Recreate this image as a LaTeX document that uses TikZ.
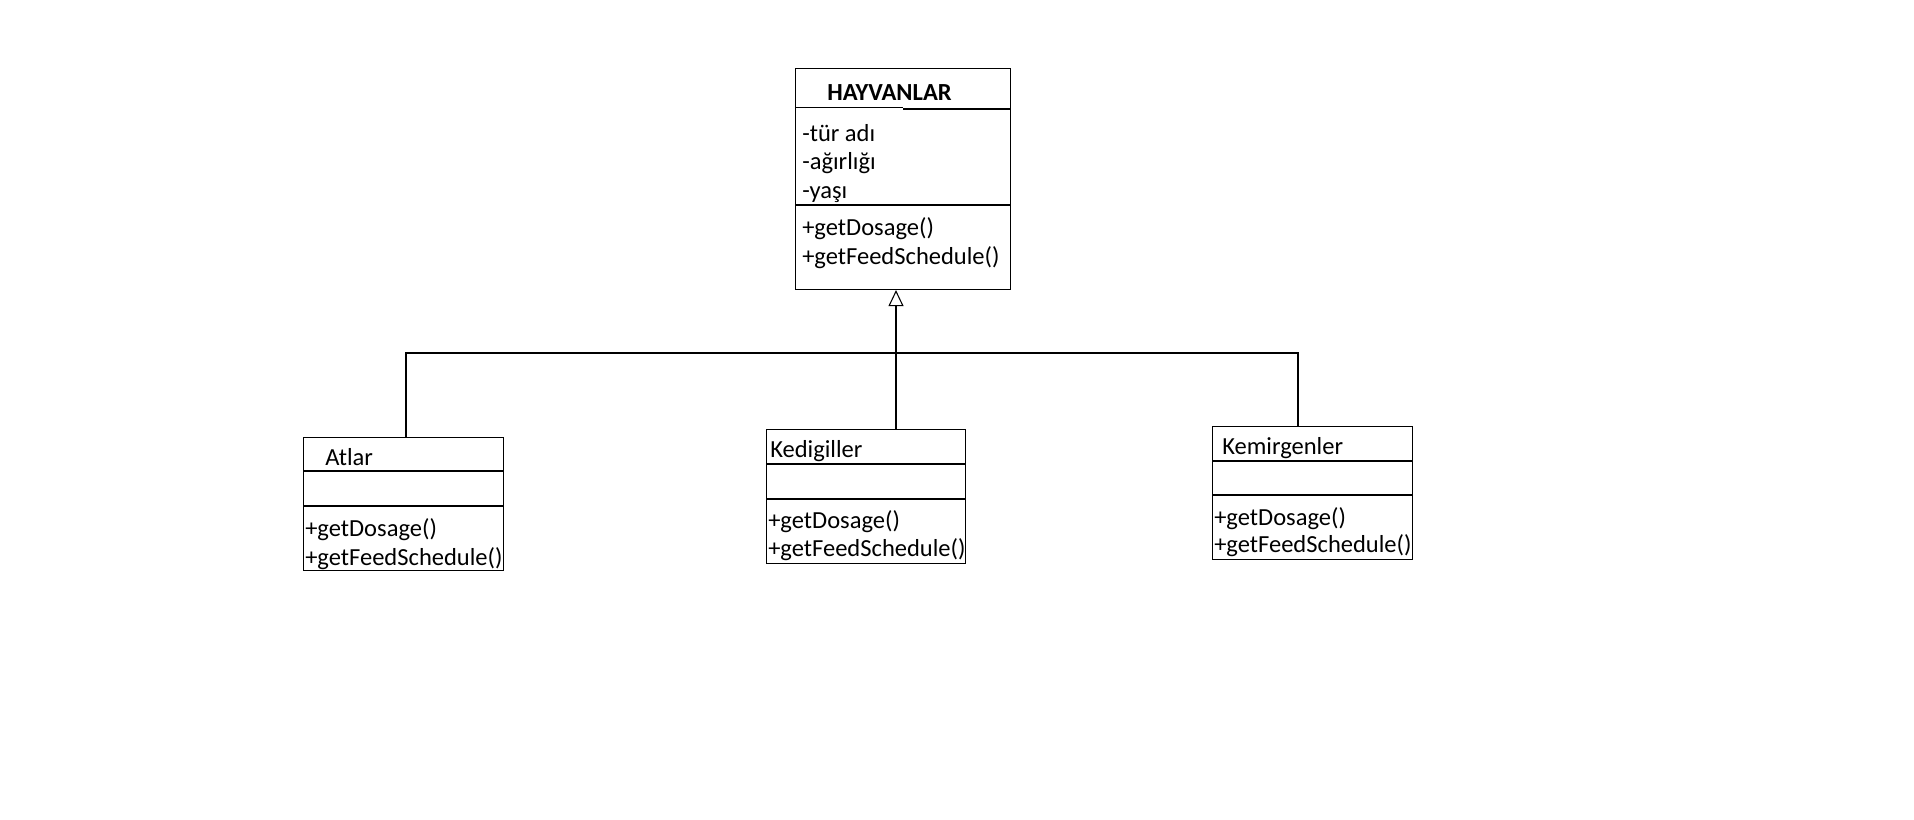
\documentclass[tikz,border=0pt]{standalone}
\usepackage{fontspec}
\setmainfont{Carlito}
\usetikzlibrary{arrows.meta}
\begin{document}
% one unit = one pixel, y grows downwards
\begin{tikzpicture}[x=0.75pt,y=-0.75pt,
  classbox/.style={draw,line width=0.8pt,inner sep=0pt,anchor=north west},
  divider/.style={line width=0.8pt},
  link/.style={line width=0.8pt},
  txt/.style={anchor=base west,inner sep=0pt,font=\fontsize{18.4pt}{20pt}\selectfont},
  title/.style={txt,font=\fontsize{18.4pt}{20pt}\selectfont\bfseries},
  inherit/.style={link,-{Triangle[open,width=11.25pt,length=12pt,line width=0.8pt]}}]
\useasboundingbox (0,0) rectangle (1914,820);

% --- base class ---
\node[classbox,minimum width=161.25pt,minimum height=165.75pt] (hay) at (795,68) {};
\draw[divider] (795,107.5) -- (903,107.5);
\draw[divider] (903,109) -- (1010,109);
\draw[divider] (795,205) -- (1010,205);
\node[title] (hayname) at (827,101) {HAYVANLAR};
\node[txt] (hayA1) at (802,142) {-tür adı};
\node[txt] (hayA2) at (802,170) {-ağırlığı};
\node[txt] (hayA3) at (802,199) {-yaşı};
\node[txt] (hayM1) at (802,235) {+getDosage()};
\node[txt] (hayM2) at (802,264) {+getFeedSchedule()};

% --- Atlar ---
\node[classbox,minimum width=150pt,minimum height=99.75pt] (atlar) at (303,437) {};
\draw[divider] (303,471) -- (503,471);
\draw[divider] (303,506) -- (503,506);
\node[txt] (atlarname) at (325,465) {Atlar};
\node[txt] (atlarM1) at (305,536) {+getDosage()};
\node[txt] (atlarM2) at (305,565) {+getFeedSchedule()};

% --- Kedigiller ---
\node[classbox,minimum width=149.25pt,minimum height=100.5pt] (kedi) at (766,429) {};
\draw[divider] (766,464) -- (965,464);
\draw[divider] (766,499) -- (965,499);
\node[txt] (kediname) at (770,457) {Kedigiller};
\node[txt] (kediM1) at (768,528) {+getDosage()};
\node[txt] (kediM2) at (768,556) {+getFeedSchedule()};

% --- Kemirgenler ---
\node[classbox,minimum width=150pt,minimum height=99.75pt] (kemir) at (1212,426) {};
\draw[divider] (1212,461) -- (1412,461);
\draw[divider] (1212,495) -- (1412,495);
\node[txt] (kemirname) at (1222,454) {Kemirgenler};
\node[txt] (kemirM1) at (1214,525) {+getDosage()};
\node[txt] (kemirM2) at (1214,552) {+getFeedSchedule()};

% --- generalisation tree ---
\coordinate (busK) at (896,353);
\coordinate (busA) at (406,353);
\coordinate (busR) at (1298,353);
\draw[inherit] (kedi.north -| busK) -- (hay.south -| busK);
\draw[link] (busA |- atlar.north) -- (busA) -- (busR) -- (busR |- kemir.north);
\end{tikzpicture}
\end{document}
